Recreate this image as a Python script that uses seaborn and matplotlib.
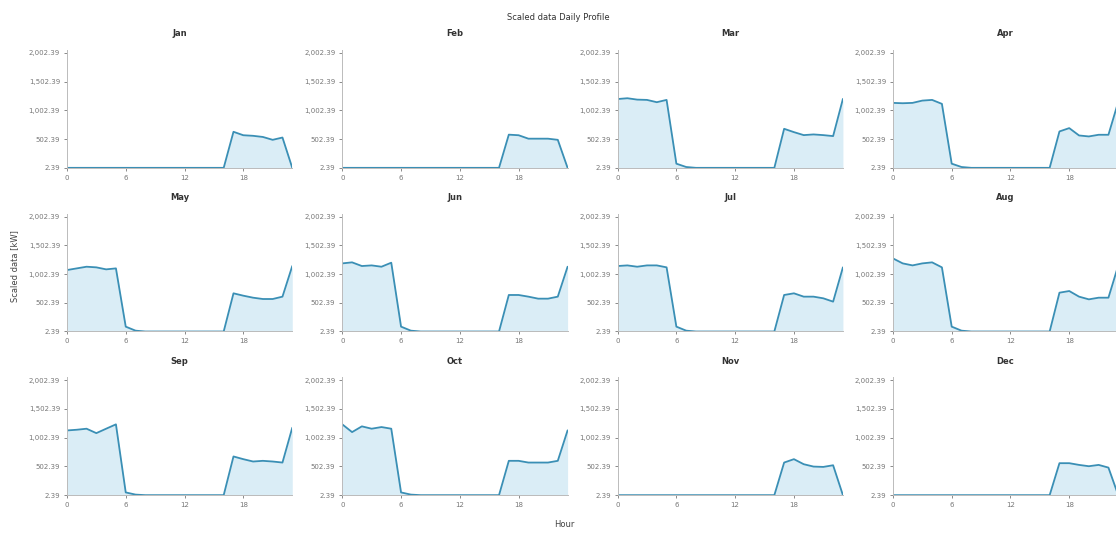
import matplotlib
matplotlib.use("Agg")
import matplotlib.pyplot as plt
import matplotlib.ticker as mticker
import seaborn as sns

# Dados
hours = list(range(24))
base = 2.39
z9 = [base] * 9
z17 = [base] * 17

jan = [base] * 17 + [630, 570, 560, 540, 490, 530, base]
feb = [base] * 17 + [580, 570, 510, 510, 510, 490, base]
mar = [1200, 1214, 1190, 1185, 1145, 1185, 75, 17] + z9 + [682, 624, 572, 584, 572, 555, 1202]
apr = [1133, 1127, 1133, 1173, 1185, 1116, 75, 17] + z9 + [636, 694, 566, 549, 578, 578, 1150]
may = [1072, 1101, 1130, 1119, 1084, 1101, 87, 17] + z9 + [667, 626, 591, 568, 568, 609, 1142]
jun = [1188, 1206, 1142, 1153, 1130, 1200, 87, 17] + z9 + [638, 638, 609, 574, 574, 609, 1130]
jul = [1142, 1153, 1130, 1153, 1153, 1119, 87, 17] + z9 + [638, 667, 609, 609, 580, 522, 1119]
aug = [1275, 1188, 1153, 1188, 1206, 1119, 87, 17] + z9 + [678, 707, 609, 562, 591, 591, 1150]
sep = [1129, 1141, 1159, 1082, 1159, 1235, 50, 12] + z9 + [676, 629, 588, 600, 588, 570, 1176]
oct_ = [1235, 1100, 1200, 1159, 1188, 1159, 50, 12] + z9 + [600, 600, 570, 570, 570, 600, 1130]
nov = z17 + [570, 629, 541, 500, 494, 523, base]
dec = z17 + [559, 559, 529, 506, 529, 482, base]

month_names = ["Jan", "Feb", "Mar", "Apr", "May", "Jun",
               "Jul", "Aug", "Sep", "Oct", "Nov", "Dec"]
profiles = [jan, feb, mar, apr, may, jun, jul, aug, sep, oct_, nov, dec]

y_ticks = [2.39, 502.39, 1002.39, 1502.39, 2002.39]
x_ticks = [0, 6, 12, 18]

line_color = "#3a8fb5"
fill_color = "#d6ebf6"

sns.set_theme(style="ticks")
plt.rcParams["font.family"] = ["DejaVu Sans"]

fig, axes = plt.subplots(3, 4, figsize=(11.16, 5.33), dpi=100)
fig.subplots_adjust(left=0.060, right=1.002, bottom=0.071, top=0.906,
                    wspace=0.222, hspace=0.39)

for ax, name, vals in zip(axes.flat, month_names, profiles):
    sns.lineplot(x=hours, y=vals, ax=ax, color=line_color, linewidth=1.3)
    ax.fill_between(hours, base, vals, color=fill_color, alpha=0.9, linewidth=0)
    ax.set_xlim(0, 23)
    ax.set_ylim(base, 2052)
    ax.set_xticks(x_ticks)
    ax.set_yticks(y_ticks)
    ax.yaxis.set_major_formatter(mticker.FuncFormatter(lambda v, p: f"{v:,.2f}"))
    ax.tick_params(labelsize=5, colors="#777777", length=2, width=0.6, pad=3)
    ax.set_title(name, fontsize=6, fontweight="bold", color="#333333", pad=10)
    ax.set_xlabel("")
    ax.set_ylabel("")
    for s in ["left", "bottom"]:
        ax.spines[s].set_color("#bbbbbb")
        ax.spines[s].set_linewidth(0.7)
    sns.despine(ax=ax)

fig.suptitle("Scaled data Daily Profile", fontsize=6, color="#333333", y=0.975)
fig.text(0.506, 0.012, "Hour", fontsize=6, color="#444444", ha="center")
fig.text(0.009, 0.5, "Scaled data [kW]", fontsize=6, color="#444444",
         rotation=90, va="center")

fig.savefig("out.png", dpi=100)
